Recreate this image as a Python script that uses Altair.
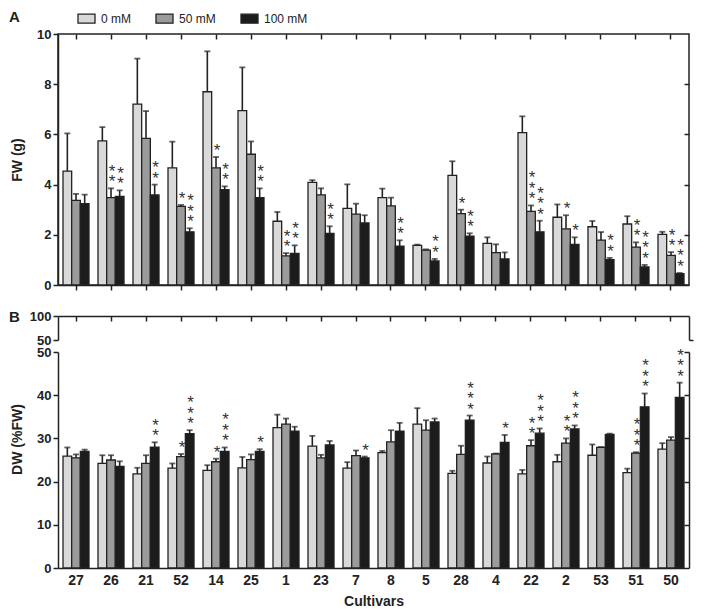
import altair as alt
import pandas as pd

cultivars = ["27", "26", "21", "52", "14", "25", "1", "23", "7", "8", "5", "28", "4", "22", "2", "53", "51", "50"]
conditions = ["0 mM", "50 mM", "100 mM"]

# Panel A: fresh weight (g), means and upper error (SE)
fw_0 = [4.54, 5.74, 7.21, 4.67, 7.70, 6.95, 2.54, 4.09, 3.05, 3.48, 1.58, 4.37, 1.66, 6.07, 2.70, 2.32, 2.43, 2.02]
fw_0_se = [1.50, 0.55, 1.81, 1.04, 1.61, 1.72, 0.37, 0.09, 0.96, 0.36, 0.03, 0.56, 0.24, 0.65, 0.51, 0.23, 0.31, 0.10]
fw_50 = [3.37, 3.48, 5.84, 3.13, 4.67, 5.21, 1.16, 3.59, 2.82, 3.15, 1.39, 2.84, 1.29, 2.93, 2.24, 1.79, 1.51, 1.18]
fw_50_se = [0.26, 0.37, 1.09, 0.06, 0.43, 0.51, 0.11, 0.26, 0.42, 0.33, 0.03, 0.16, 0.33, 0.24, 0.54, 0.32, 0.19, 0.13]
fw_100 = [3.24, 3.53, 3.59, 2.12, 3.80, 3.48, 1.26, 2.06, 2.47, 1.55, 0.96, 1.95, 1.04, 2.12, 1.62, 1.01, 0.72, 0.45]
fw_100_se = [0.36, 0.24, 0.41, 0.14, 0.13, 0.37, 0.32, 0.28, 0.31, 0.23, 0.08, 0.11, 0.26, 0.44, 0.28, 0.07, 0.08, 0.03]
fw_stars_0 = [0] * 18
fw_stars_50 = [0, 2, 0, 1, 1, 0, 2, 0, 0, 0, 0, 1, 0, 3, 1, 0, 2, 2]
fw_stars_100 = [0, 2, 2, 3, 2, 2, 2, 2, 0, 2, 2, 2, 0, 3, 1, 2, 3, 3]

# Panel B: dry weight (% FW)
dw_0 = [25.9, 24.2, 21.8, 23.1, 22.6, 23.2, 32.5, 28.2, 23.1, 26.7, 33.3, 21.9, 24.3, 21.8, 24.6, 26.1, 22.1, 27.5]
dw_0_se = [2.0, 1.9, 1.4, 1.1, 1.2, 2.5, 3.0, 2.4, 1.4, 0.4, 3.7, 0.6, 1.5, 0.9, 1.6, 2.5, 0.9, 1.4]
dw_50 = [25.5, 25.0, 24.2, 25.8, 24.6, 25.1, 33.3, 25.5, 26.0, 29.2, 31.9, 26.3, 26.4, 28.3, 28.9, 27.9, 26.6, 29.6]
dw_50_se = [0.8, 1.1, 1.9, 0.6, 0.7, 1.2, 1.3, 0.7, 1.2, 2.7, 2.3, 2.0, 0.1, 1.3, 1.1, 0.1, 0.2, 0.7]
dw_100 = [27.0, 23.5, 28.0, 31.1, 27.0, 27.0, 31.7, 28.5, 25.5, 31.7, 33.8, 34.2, 29.1, 31.2, 32.2, 30.9, 37.3, 39.5]
dw_100_se = [0.4, 1.2, 1.1, 0.8, 0.9, 0.5, 1.0, 0.9, 0.3, 1.9, 0.8, 1.1, 1.7, 1.1, 0.8, 0.2, 3.1, 3.4]
dw_stars_0 = [0] * 18
dw_stars_50 = [0, 0, 0, 1, 1, 0, 0, 0, 0, 0, 0, 0, 0, 2, 2, 0, 3, 0]
dw_stars_100 = [0, 0, 2, 3, 3, 1, 0, 0, 1, 0, 0, 3, 1, 3, 3, 0, 3, 3]

fw_ticks = [0, 2, 4, 6, 8, 10]
dw_ticks = [0, 10, 20, 30, 40, 50]
dw_break_ticks = [50, 100]


def build(means, ses, stars):
    rows, star_rows = [], []
    for cond, m, s, st in zip(conditions, means, ses, stars):
        for c, mv, sv, n in zip(cultivars, m, s, st):
            up = round(mv + sv, 3)
            rows.append({"cultivar": c, "cond": cond, "mean": mv, "upper": up})
            for k in range(n):
                star_rows.append({"cultivar": c, "cond": cond, "upper": up, "k": k, "s": "*"})
    return pd.DataFrame(rows), pd.DataFrame(star_rows)


fw_df, fw_star_df = build([fw_0, fw_50, fw_100], [fw_0_se, fw_50_se, fw_100_se],
                          [fw_stars_0, fw_stars_50, fw_stars_100])
dw_df, dw_star_df = build([dw_0, dw_50, dw_100], [dw_0_se, dw_50_se, dw_100_se],
                          [dw_stars_0, dw_stars_50, dw_stars_100])

FONT = "Liberation Sans"
INK = "#222222"
W = 631
H1 = 251
H2 = 252
STAR_GAP = 10.5
fills = ["#d9d9d9", "#9b9b9b", "#1c1c1c"]

x_scale = alt.Scale(domain=cultivars, paddingInner=0.257, paddingOuter=0.143)
xo_scale = alt.Scale(domain=conditions, paddingInner=0, paddingOuter=0)
color_scale = alt.Scale(domain=conditions, range=fills)
fw_y = alt.Scale(domain=[0, 10], nice=False)
dw_main = alt.Scale(domain=[0, 50], range=[H2, 36], nice=False)
dw_tiny = alt.Scale(domain=[50, 100], range=[24, 0], nice=False)

lab = dict(labelFont=FONT, labelFontWeight="bold", labelColor=INK)
tit = dict(titleFont=FONT, titleFontWeight="bold", titleColor=INK, titleFontSize=14)
ln = dict(domainColor=INK, domainWidth=1.5, tickColor=INK, tickWidth=1.5, grid=False)

xo = alt.XOffset("cond:N", scale=xo_scale)


def bars(df, y_scale, xaxis, yaxis, legend):
    return alt.Chart(df).mark_bar(stroke=INK, strokeWidth=1.3).encode(
        x=alt.X("cultivar:N", scale=x_scale, axis=xaxis),
        xOffset=xo,
        y=alt.Y("mean:Q", scale=y_scale, axis=yaxis),
        color=alt.Color("cond:N", scale=color_scale, legend=legend),
    )


def errs(df, y_scale):
    rule = alt.Chart(df).mark_rule(color=INK, strokeWidth=1.6).encode(
        x=alt.X("cultivar:N", scale=x_scale, axis=None),
        xOffset=xo,
        y=alt.Y("mean:Q", scale=y_scale, axis=None),
        y2="upper:Q",
    )
    cap = alt.Chart(df).mark_tick(color=INK, thickness=1.8, size=6, orient="horizontal").encode(
        x=alt.X("cultivar:N", scale=x_scale, axis=None),
        xOffset=xo,
        y=alt.Y("upper:Q", scale=y_scale, axis=None),
    )
    return [rule, cap]


def stars(df, y_scale):
    layers = []
    for k in range(3):
        layers.append(
            alt.Chart(df).transform_filter(alt.datum.k == k).mark_text(
                font=FONT, fontSize=17, color="#333333", baseline="bottom",
                dy=3 - STAR_GAP * k, dx=1,
            ).encode(
                x=alt.X("cultivar:N", scale=x_scale, axis=None),
                xOffset=xo,
                y=alt.Y("upper:Q", scale=y_scale, axis=None),
                text="s:N",
            )
        )
    return layers


def panel_label(t, y):
    return alt.Chart(pd.DataFrame({"t": [t]})).mark_text(
        font=FONT, fontSize=15, fontWeight="bold", align="left", baseline="middle", color=INK
    ).encode(text="t:N", x=alt.value(-49), y=alt.value(y))


# ---------- Panel A ----------
top_bars = bars(
    fw_df, fw_y,
    alt.Axis(orient="bottom", labels=False, ticks=True, tickSize=5, title=None, **ln),
    alt.Axis(orient="left", values=fw_ticks, title="FW (g)", tickSize=5, labelFontSize=13, labelPadding=2,
             titleX=-34, titleY=H1 / 2, **lab, **tit, **ln),
    alt.Legend(orient="none", legendX=19, legendY=-25, direction="horizontal", title=None,
               symbolType="M-1,-0.53L1,-0.53L1,0.53L-1,0.53Z", symbolSize=289,
               symbolStrokeColor=INK, symbolStrokeWidth=1.3, labelFont=FONT, labelFontSize=12,
               labelColor=INK, labelOffset=5, columnPadding=22),
)
top_frame = alt.Chart(fw_df).mark_point(opacity=0, size=1).encode(
    x=alt.X("cultivar:N", scale=x_scale,
            axis=alt.Axis(orient="top", offset=-5, domain=False, labels=False, tickSize=5, title=None, **ln)),
    y=alt.Y("mean:Q", scale=fw_y,
            axis=alt.Axis(orient="right", offset=-5, domain=False, labels=False, tickSize=5,
                          values=[2, 4, 6, 8], title=None, **ln)),
)
top = alt.layer(
    top_bars, *errs(fw_df, fw_y), *stars(fw_star_df, fw_y), top_frame, panel_label("A", -17.5)
).resolve_axis(x="independent", y="independent").properties(
    width=W, height=H1, view=alt.ViewBackground(stroke=INK, strokeWidth=1.5)
)

# ---------- Panel B ----------
bot_bars = bars(
    dw_df, dw_main,
    alt.Axis(orient="bottom", ticks=False, labelPadding=5, labelFontSize=14, labelAngle=0,
             title="Cultivars", titlePadding=7, **lab, **tit, **ln),
    alt.Axis(orient="left", values=dw_ticks, title="DW (%FW)", tickSize=5, labelFontSize=13, labelPadding=2,
             titleX=-34, titleY=123, **lab, **tit, **ln),
    None,
)
break_df = pd.DataFrame({"cultivar": ["27", "27"], "v": dw_break_ticks})
bot_tiny = alt.Chart(break_df).mark_point(opacity=0, size=1).encode(
    x=alt.X("cultivar:N", scale=x_scale,
            axis=alt.Axis(orient="top", offset=-5, domain=False, labels=False, tickSize=5, title=None, **ln)),
    y=alt.Y("v:Q", scale=dw_tiny,
            axis=alt.Axis(orient="left", values=dw_break_ticks, title=None, tickSize=5, labelFontSize=13,
                          labelPadding=2, domainColor=INK, domainWidth=1.5, tickColor=INK, tickWidth=1.5,
                          grid=True, gridColor=INK, gridWidth=1.5,
                          gridOpacity={"condition": {"test": "datum.value == 100", "value": 1}, "value": 0},
                          **lab)),
)
right_df = pd.DataFrame({"v": [10, 40]})
bot_right_line = alt.Chart(right_df).mark_point(opacity=0, size=1).encode(
    y=alt.Y("v:Q", scale=dw_main,
            axis=alt.Axis(orient="right", domain=True, ticks=False, labels=False, title=None,
                          domainColor=INK, domainWidth=1.5)),
)
bot_right_ticks = alt.Chart(right_df).mark_point(opacity=0, size=1).encode(
    y=alt.Y("v:Q", scale=dw_main,
            axis=alt.Axis(orient="right", offset=-5, domain=False, labels=False, tickSize=5, title=None,
                          values=[10, 20, 30, 40, 50], tickColor=INK, tickWidth=1.5)),
)
bot_right_tiny = alt.Chart(break_df).mark_point(opacity=0, size=1).encode(
    y=alt.Y("v:Q", scale=dw_tiny,
            axis=alt.Axis(orient="right", domain=True, labels=False, tickSize=4, title=None,
                          values=[50], domainColor=INK, domainWidth=1.5, tickColor=INK, tickWidth=1.5)),
)
bottom = alt.layer(
    bot_bars, *errs(dw_df, dw_main), *stars(dw_star_df, dw_main),
    bot_tiny, bot_right_line, bot_right_ticks, bot_right_tiny, panel_label("B", 0.5)
).resolve_scale(y="independent").resolve_axis(x="independent", y="independent").properties(
    width=W, height=H2, view=alt.ViewBackground(stroke="transparent")
)

chart = alt.vconcat(top, bottom, spacing=16).resolve_legend(color="independent").properties(
    padding=0
).configure(font=FONT).configure_view(stroke="transparent")

chart.save("out.html", embed_options={"renderer": "svg", "actions": False})
